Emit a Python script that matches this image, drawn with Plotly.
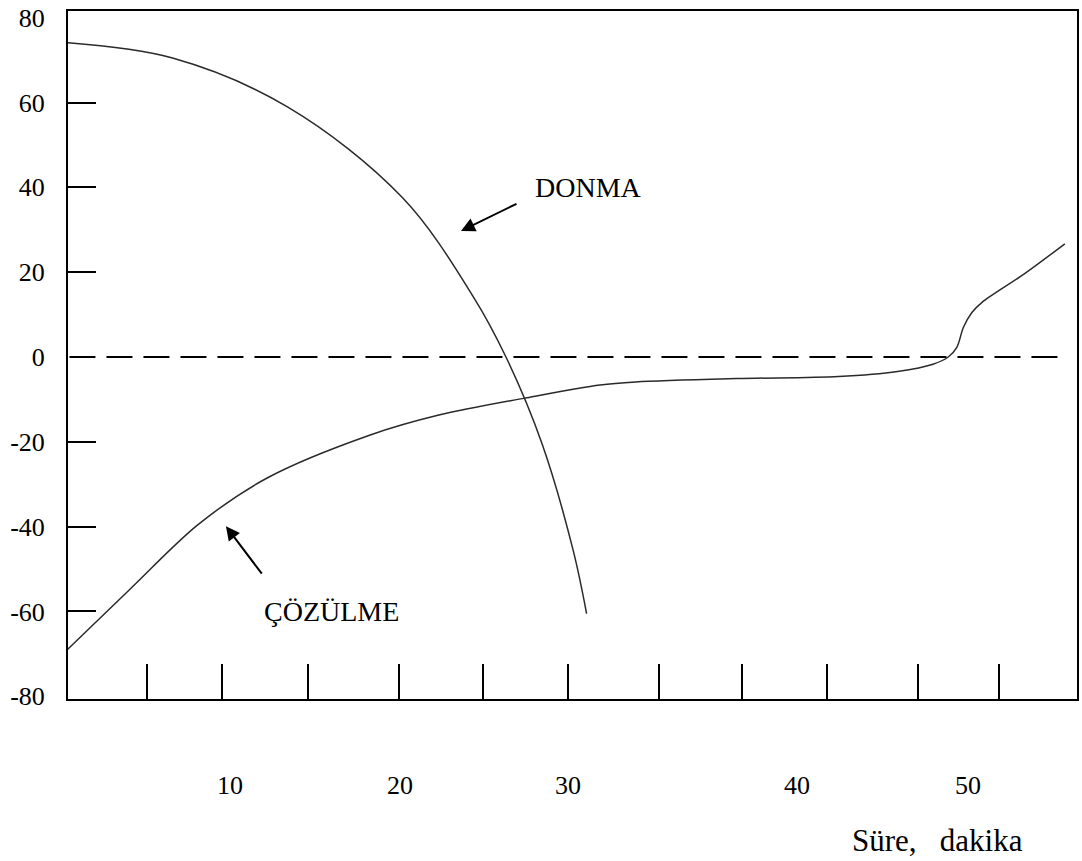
import plotly.graph_objects as go

# ---- data ----
donma_t = [0.4, 6.6, 13.4, 20.2, 24.4, 26.33, 28.46, 30.3, 31.1]
donma_v = [74.1, 70.5, 59.0, 37.6, 14.2, 0.0, -20.4, -45.5, -60.5]

cozulme_t = [0.35, 4.02, 8.09, 12.17, 18.3, 22.36, 27.45, 31.9, 34.0, 40.0, 46.0, 49.5, 51.6, 52.5,
             53.0, 53.4, 53.9, 54.5, 57.0, 59.4]
cozulme_v = [-69.1, -55.0, -39.6, -28.6, -18.4, -13.7, -9.7, -6.6, -5.9, -5.1, -4.6, -3.4, -1.7, 0.0,
             2.2, 7.0, 10.5, 12.9, 19.6, 26.7]

zero_t = [0.5, 59.5]
zero_v = [0, 0]

x_label_pos = [10.0, 20.06, 30.0, 43.55, 53.67]
x_label_text = ["10", "20", "30", "40", "50"]
x_tick_marks = [5.1, 9.5, 14.6, 20.0, 25.0, 30.0, 35.4, 40.3, 45.3, 50.7, 55.5]

y_label_vals = [80, 60, 40, 20, 0, -20, -40, -60, -80]
y_label_text = ["80", "60", "40", "20", "0", "-20", "-40", "-60", "-80"]
y_tick_marks = [60, 40, 20, -20, -40, -60]

x_range = [0.414, 60.12]
y_range = [-80.66, 81.6]

FONT = "Liberation Serif"
LINE_COLOR = "#2a2a2a"

fig = go.Figure()
fig.add_trace(go.Scatter(x=zero_t, y=zero_v, mode="lines", xaxis="x2", yaxis="y2",
                         line=dict(color="black", width=2, dash="26px,11px"), hoverinfo="skip"))
fig.add_trace(go.Scatter(x=donma_t, y=donma_v, mode="lines", name="DONMA",
                         line=dict(color=LINE_COLOR, width=1.5, shape="spline", smoothing=1.0)))
fig.add_trace(go.Scatter(x=cozulme_t, y=cozulme_v, mode="lines", name="ÇÖZÜLME",
                         line=dict(color=LINE_COLOR, width=1.5, shape="spline", smoothing=0.9)))

fig.update_layout(
    width=1082, height=861,
    margin=dict(l=68, r=5, t=11, b=162, autoexpand=False),
    plot_bgcolor="white", paper_bgcolor="white",
    showlegend=False,
    font=dict(family=FONT, size=26, color="black"),
    xaxis=dict(range=x_range, showline=True, mirror=True, linecolor="black", linewidth=2,
               showgrid=False, zeroline=False, ticks="", tickvals=x_label_pos, ticktext=x_label_text,
               ticklabelstandoff=62, tickfont=dict(family=FONT, size=26, color="black")),
    xaxis2=dict(range=x_range, overlaying="x", anchor="y", side="bottom", showline=False,
                showgrid=False, zeroline=False, ticks="inside", ticklen=35, tickwidth=2,
                tickcolor="black", tickvals=x_tick_marks, showticklabels=False),
    yaxis=dict(range=y_range, showline=True, mirror=True, linecolor="black", linewidth=2,
               showgrid=False, zeroline=False, ticks="", tickvals=y_label_vals, ticktext=y_label_text,
               ticklabelstandoff=16, tickfont=dict(family=FONT, size=26, color="black")),
    yaxis2=dict(range=y_range, overlaying="y", anchor="x", side="left", showline=False,
                showgrid=False, zeroline=False, ticks="inside", ticklen=28, tickwidth=2,
                tickcolor="black", tickvals=y_tick_marks, showticklabels=False),
)

# labels with arrows
fig.add_annotation(x=23.67, y=29.7, xref="x", yref="y", text="", showarrow=True,
                   ax=57, ay=-28, arrowhead=2, arrowsize=1.4, arrowwidth=2, arrowcolor="black")
fig.add_annotation(x=31.24, y=39.9, xref="x", yref="y", text="DONMA", showarrow=False,
                   font=dict(family=FONT, size=28, color="black"))
fig.add_annotation(x=9.76, y=-39.9, xref="x", yref="y", text="", showarrow=True,
                   ax=37, ay=49, arrowhead=2, arrowsize=1.4, arrowwidth=2, arrowcolor="black")
fig.add_annotation(x=16.0, y=-60.1, xref="x", yref="y", text="ÇÖZÜLME", showarrow=False,
                   font=dict(family=FONT, size=28, color="black"))

# axis caption
fig.add_annotation(x=0.862, y=-0.205, xref="paper", yref="paper", text="Süre,\u00a0\u00a0\u00a0dakika",
                   showarrow=False, xanchor="center", yanchor="middle",
                   font=dict(family=FONT, size=31, color="black"))

fig.write_html("out.html")
